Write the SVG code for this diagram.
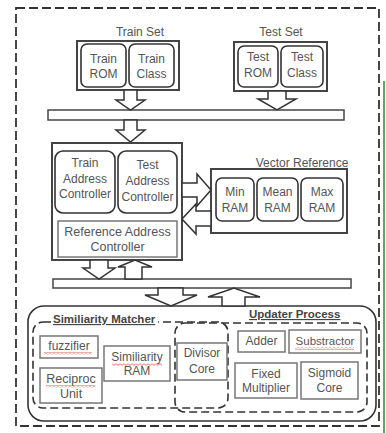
<svg xmlns="http://www.w3.org/2000/svg" width="386" height="433" viewBox="0 0 386 433">
<defs>
<style>
.t{font-family:"Liberation Sans",Arial,sans-serif;font-size:12px;fill:#555;text-anchor:middle}
.lbl{font-family:"Liberation Sans",Arial,sans-serif;font-size:12px;fill:#555;text-anchor:middle}
.bl{font-family:"Liberation Sans",Arial,sans-serif;font-size:11.5px;font-weight:bold;fill:#444;text-decoration:underline}
.outer{fill:#fff;stroke:#444;stroke-width:2}
.rbox{fill:#fff;stroke:#333;stroke-width:1.6}
.sbox{fill:#fff;stroke:#777;stroke-width:1.5}
.dash{fill:none;stroke:#333;stroke-width:1.6;stroke-dasharray:8 4}
.arr{fill:#fff;stroke:#333;stroke-width:1.5;stroke-linejoin:miter}
.bar{fill:#fff;stroke:#444;stroke-width:1.5}
</style>
<pattern id="wavy" width="4" height="3" patternUnits="userSpaceOnUse">
<path d="M0,0.5 L2,2.5 L4,0.5" fill="none" stroke="#e03030" stroke-width="0.8"/>
</pattern>
</defs>
<rect width="386" height="433" fill="#fff"/>
<rect x="16" y="8" width="363" height="418" fill="none" stroke="#333" stroke-width="1.8" stroke-dasharray="9 4"/>
<line x1="384" y1="81" x2="384" y2="433" stroke="#2a8a2a" stroke-width="1.5"/>

<g id="train-set">
<text class="lbl" x="140" y="36">Train Set</text>
<rect class="outer" x="77" y="41" width="102" height="49"/>
<rect class="rbox" x="81" y="44" width="45" height="43" rx="6"/>
<rect class="rbox" x="129" y="44" width="45" height="43" rx="6"/>
<text class="t" x="103.5" y="63">Train</text><text class="t" x="103.5" y="78">ROM</text>
<text class="t" x="151.5" y="63">Train</text><text class="t" x="151.5" y="78">Class</text>
</g>

<g id="test-set">
<text class="lbl" x="281" y="36">Test Set</text>
<rect class="outer" x="234" y="42" width="93" height="49"/>
<rect class="rbox" x="238" y="46" width="40" height="41" rx="6"/>
<rect class="rbox" x="281" y="46" width="42" height="41" rx="6"/>
<text class="t" x="258" y="61">Test</text><text class="t" x="258" y="77">ROM</text>
<text class="t" x="302" y="61">Test</text><text class="t" x="302" y="77">Class</text>
</g>

<g id="bus-top"><rect class="bar" x="48" y="110" width="296" height="10"/></g>

<g id="controller">
<rect class="outer" x="52" y="143" width="130" height="117"/>
<rect class="rbox" x="55" y="151" width="60" height="62" rx="8"/>
<rect class="rbox" x="118" y="151" width="59" height="62" rx="8"/>
<rect class="sbox" x="58" y="221" width="119" height="36"/>
<text class="t" x="85" y="167">Train</text><text class="t" x="85" y="183">Address</text><text class="t" x="85" y="198">Controller</text>
<text class="t" x="147.5" y="169">Test</text><text class="t" x="147.5" y="185">Address</text><text class="t" x="147.5" y="201">Controller</text>
<text class="t" x="117.5" y="236" style="font-size:12.5px">Reference Address</text>
<text class="t" x="117.5" y="251" style="font-size:12.5px">Controller</text>
</g>

<g id="vector-reference">
<text class="lbl" x="302" y="167">Vector Reference</text>
<rect class="outer" x="211" y="169" width="136" height="64"/>
<rect class="rbox" x="216" y="178" width="38" height="43" rx="6"/>
<rect class="rbox" x="257" y="178" width="41" height="43" rx="6"/>
<rect class="rbox" x="301" y="178" width="42" height="43" rx="6"/>
<text class="t" x="235" y="196">Min</text><text class="t" x="235" y="212">RAM</text>
<text class="t" x="277.5" y="196">Mean</text><text class="t" x="277.5" y="212">RAM</text>
<text class="t" x="322" y="196">Max</text><text class="t" x="322" y="212">RAM</text>
</g>

<g id="bus-mid"><rect class="bar" x="53" y="279" width="298" height="9"/></g>

<g id="bottom-block">
<rect x="28" y="306" width="348" height="115" rx="16" fill="#fff" stroke="#333" stroke-width="1.6"/>
<rect class="dash" x="33" y="322" width="195" height="86" rx="10"/>
<rect class="dash" x="175" y="323" width="192" height="89" rx="10"/>
<rect x="52" y="312" width="106" height="12" fill="#fff"/>
<text class="bl" x="53" y="323">Similiarity Matcher</text>
<rect x="247" y="308" width="94" height="11" fill="#fff"/>
<text class="bl" x="249" y="318">Updater Process</text>
</g>

<g id="fuzzifier"><rect class="sbox" x="40" y="336" width="58" height="22"/><text class="t" x="69" y="350">fuzzifier</text></g>
<g id="reciproc"><rect class="sbox" x="40" y="368" width="62" height="35"/><text class="t" x="71" y="383" style="font-size:12.5px">Reciproc</text><text class="t" x="71" y="398" style="font-size:12.5px">Unit</text></g>
<g id="sim-ram"><rect class="sbox" x="104" y="346" width="66" height="35"/><text class="t" x="137" y="361">Similiarity</text><text class="t" x="137" y="375">RAM</text></g>
<g id="divisor"><rect class="sbox" x="177" y="343" width="50" height="37"/><text class="t" x="202" y="357">Divisor</text><text class="t" x="202" y="373">Core</text></g>
<g id="adder"><rect class="sbox" x="238" y="331" width="47" height="21"/><text class="t" x="261.5" y="345">Adder</text></g>
<g id="substractor"><rect class="sbox" x="289" y="330" width="72" height="23"/><text class="t" x="325" y="345" style="font-size:11.5px">Substractor</text></g>
<g id="fixed-mult"><rect class="sbox" x="235" y="363" width="62" height="35"/><text class="t" x="266" y="378">Fixed</text><text class="t" x="266" y="392">Multiplier</text></g>
<g id="sigmoid"><rect class="sbox" x="301" y="362" width="57" height="37"/><text class="t" x="329.5" y="377">Sigmoid</text><text class="t" x="329.5" y="392">Core</text></g>

<g id="spell-marks">
<rect x="44" y="352" width="48" height="3" fill="url(#wavy)"/>
<rect x="112" y="363" width="50" height="3" fill="url(#wavy)"/>
<rect x="46" y="385" width="49" height="3" fill="url(#wavy)"/>
<rect x="295" y="347" width="59" height="3" fill="url(#wavy)"/>
</g>

<g id="connectors">
<polygon class="arr" points="124,90 137,90 137,100 145,100 130.5,110 116,100 124,100"/>
<polygon class="arr" points="268,91 286,91 286,99 296,99 277,110 258,99 268,99"/>
<polygon class="arr" points="124,120 137,120 137,130 145,130 130.5,142 116,130 124,130"/>
<polygon class="arr" points="182,183 197,183 197,174 211,190 197,206 197,197 182,197"/>
<polygon class="arr" points="211,211 196,211 196,204 182,219 196,234 196,226 211,226"/>
<polygon class="arr" points="90,260 108,260 108,268 115,268 99,279 83,268 90,268"/>
<polygon class="arr" points="125,279 125,267 118,267 135,260 152,267 142,267 142,279"/>
<polygon class="arr" points="158,288 183,288 183,295 197,295 171,306 145,295 158,295"/>
<polygon class="arr" points="222,306 222,297 208,297 234,288 260,297 245,297 245,306"/>
</g>
</svg>
